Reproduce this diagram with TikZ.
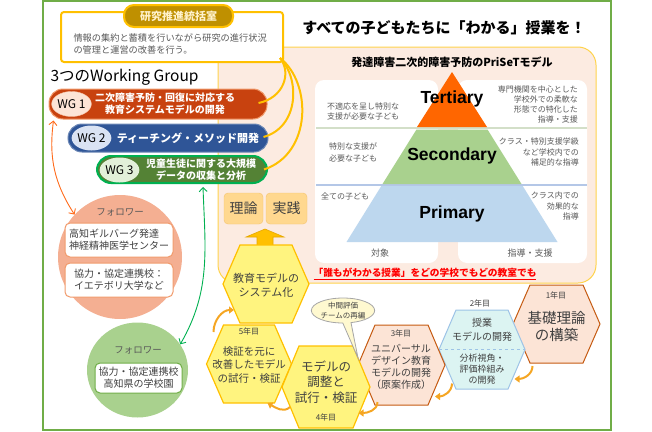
\documentclass[tikz,border=0pt]{standalone}
\usepackage{fontspec}
\setmainfont{Noto Sans CJK JP}
\newfontfamily\arialfont{Liberation Sans}
\usetikzlibrary{calc,shapes.geometric,shapes.callouts,arrows.meta}

\definecolor{framegreen}{HTML}{70AD47}
\definecolor{gold}{HTML}{FFC000}
\definecolor{darkgold}{HTML}{BF9000}
\definecolor{arrowgold}{HTML}{E6A700}
\definecolor{cream}{HTML}{FFF2CC}
\definecolor{peach}{HTML}{FCEBE1}
\definecolor{notegray}{HTML}{595959}
\definecolor{textgray}{HTML}{404040}
\definecolor{wgred}{HTML}{C8420F}
\definecolor{wgblue}{HTML}{2F5597}
\definecolor{wggreen}{HTML}{548235}
\definecolor{tagblue}{HTML}{DAE3F3}
\definecolor{taggreen}{HTML}{E2F0D9}
\definecolor{brightgreen}{HTML}{00B050}
\definecolor{tertiaryfill}{HTML}{FF6600}
\definecolor{secondaryfill}{HTML}{A9D18E}
\definecolor{primaryfill}{HTML}{BDD7EE}
\definecolor{lineA}{HTML}{D3DFC8}
\definecolor{lineB}{HTML}{B4C7E7}
\definecolor{hexyellow}{HTML}{FFF47F}
\definecolor{hexpeach}{HTML}{FCE4D6}
\definecolor{hexbrown}{HTML}{C55A11}
\definecolor{hexcyan}{HTML}{DCF4F2}
\definecolor{hexblue}{HTML}{9DC3E6}
\definecolor{steporange}{HTML}{F5A623}
\definecolor{salmon}{HTML}{F4AF92}
\definecolor{salmonline}{HTML}{F19A6B}
\definecolor{leafgreen}{HTML}{A9D18E}
\definecolor{arrowred}{HTML}{FF6A1A}
\definecolor{boxgold}{HTML}{FFD88F}
\definecolor{boxgoldline}{HTML}{F5C46E}
\definecolor{calloutfill}{HTML}{FFF9D0}
\definecolor{calloutline}{HTML}{A6A6A6}

% irregular hexagon: style, centre, half width, half height
\newcommand\hexcell[4]{%
  \filldraw[#1] ($(#2)+(-#3,0)$) -- ++(17,#4) -- ++(2*#3-34,0) -- ++(17,-#4)
    -- ++(-17,-#4) -- ++(-2*#3+34,0) -- cycle;}

\begin{document}
\begin{tikzpicture}[x=1pt, y=1pt,
  note/.style={text=notegray, font=\fontsize{8}{10.3}\selectfont, inner sep=1pt},
  pane/.style={fill=white, rounded corners=9pt, minimum height=183pt},
  pill/.style={rounded corners=14pt, inner sep=0pt},
  wgtag/.style={ellipse, inner sep=0pt, minimum width=37pt, minimum height=25pt, font=\fontsize{12}{12}\selectfont},
  wgtext/.style={text=white, align=center, font=\bfseries\fontsize{10}{12}\selectfont},
  link/.style={draw=gold, line width=2pt},
  hexy/.style={fill=hexyellow, draw=gold, line width=1.2pt},
  hexp/.style={fill=hexpeach, draw=hexbrown, line width=1pt},
  hext/.style={text=textgray, align=center},
  yr/.style={text=textgray, font=\fontsize{8}{8}\selectfont},
  steparrow/.style={draw=steporange, line width=2pt, -{Triangle[length=5pt,width=7pt]}},
  flbox/.style={fill=white, rounded corners=5pt, line width=1pt, minimum width=108pt, minimum height=34pt, align=center, text=textgray, font=\fontsize{10}{12}\selectfont},
  flhead/.style={text=notegray, font=\fontsize{9.5}{9.5}\selectfont},
  pairarrow/.style={line width=0.9pt, {Straight Barb[length=4pt]}-{Straight Barb[length=4pt]}},
  tier/.style={font=\arialfont\bfseries\fontsize{17.5}{17.5}\selectfont},
  keyword/.style={fill=boxgold, draw=boxgoldline, rounded corners=4pt, minimum height=31pt, text=textgray, font=\fontsize{14}{14}\selectfont}]

\useasboundingbox (0,0) rectangle (652,-431);
\draw[framegreen, line width=1.2pt] (43,-1) rectangle (611,-430);

% PriSeT model
\node[fill=peach, draw=gold!70, line width=1pt, rounded corners=18pt, minimum width=378pt, minimum height=236pt] (priset) at (407,-165) {};
\node[font=\bfseries\fontsize{11}{11}\selectfont] (prisettitle) at (452,-62) {発達障害二次的障害予防のPriSeTモデル};
\node[pane, minimum width=123pt] (leftpane) at (376.5,-171.5) {};
\node[pane, minimum width=129pt] (rightpane) at (522.5,-171.5) {};
\draw[lineA, line width=1.2pt] (316,-128) -- (587,-128);
\draw[lineB, line width=1.2pt] (316,-185) -- (587,-185);
\fill[tertiaryfill] (452,-72) -- (487,-127) -- (417,-127) -- cycle;
\fill[secondaryfill] (416.5,-129.5) -- (487.5,-129.5) -- (521.5,-184) -- (382.5,-184) -- cycle;
\fill[primaryfill] (381.3,-186) -- (522.7,-186) -- (557.5,-242) -- (346.5,-242) -- cycle;
\node[tier] (tert) at (452,-99) {Tertiary};
\node[tier] (sec) at (452,-156) {Secondary};
\node[tier] (prim) at (452,-214) {Primary};

\node[note, anchor=west, align=left] (tneed) at (326,-111.5) {不適応を呈し特別な\\支援が必要な子ども};
\node[note, anchor=east, align=right] (tsupport) at (579,-104.5) {専門機関を中心とした\\学校外での柔軟な\\形態での特化した\\指導・支援};
\node[note, anchor=west, align=left, font=\fontsize{8}{12}\selectfont] (sneed) at (328,-152) {特別な支援が\\必要な子ども};
\node[note, anchor=east, align=right] (ssupport) at (580,-152) {クラス・特別支援学級\\など学校内での\\補足的な指導};
\node[note, anchor=west] (pneed) at (320,-196) {全ての子ども};
\node[note, anchor=east, align=right] (psupport) at (580,-206) {クラス内での\\効果的な\\指導};
\node[note, font=\fontsize{9}{9}\selectfont] (target) at (380,-253) {対象};
\node[note, font=\fontsize{9}{9}\selectfont] (guidance) at (530,-253) {指導・支援};
\node[text=red, font=\bfseries\fontsize{9.7}{10}\selectfont] (motto) at (425,-274) {\underline{「誰もがわかる授業」をどの学校でもどの教室でも}};

% research office
\node[fill=white, draw=gold, line width=2pt, rounded corners=3pt, minimum width=222pt, minimum height=50pt] (office) at (172,-37) {};
\node[fill=darkgold, draw=gold, line width=2pt, rounded corners=10pt, minimum width=109pt, minimum height=22pt, text=cream, font=\bfseries\fontsize{11}{11}\selectfont] (officehead) at (178.5,-16) {研究推進統括室};
\node[anchor=west, align=left, text=notegray, font=\fontsize{9.2}{12}\selectfont] (officetxt) at (70,-44) {情報の集約と蓄積を行いながら研究の進行状況\\の管理と運営の改善を行う。};
\node[font=\bfseries\fontsize{15}{15}\selectfont] (maintitle) at (444,-28) {すべての子どもたちに「わかる」授業を！};

% working groups
\node[anchor=west, font=\fontsize{15.5}{15.5}\selectfont] (wglabel) at (47,-77) {3つのWorking Group};
\node[pill, fill=wgred, draw=salmonline, line width=1pt, minimum width=218pt, minimum height=30pt] (wg1) at (158,-104) {};
\node[pill, fill=wgblue, draw=wgblue!70!white, line width=1pt, minimum width=200pt, minimum height=28pt] (wg2) at (168,-138) {};
\node[pill, fill=wggreen, draw=brightgreen, line width=2pt, minimum width=170pt, minimum height=27pt] (wg3) at (182,-169.5) {};
\node[wgtag, fill=hexpeach, draw=salmonline!60] (wg1tag) at (71.5,-104) {WG 1};
\node[wgtag, fill=tagblue] (wg2tag) at (91.5,-138) {WG 2};
\node[wgtag, fill=taggreen, minimum width=35pt] (wg3tag) at (119.5,-170) {WG 3};
\node[wgtext] (wg1text) at (165,-104) {二次障害予防・回復に対応する\\教育システムモデルの開発};
\node[wgtext, font=\bfseries\fontsize{11}{11}\selectfont] (wg2text) at (188,-138) {ティーチング・メソッド開発};
\node[wgtext] (wg3text) at (201,-170) {児童生徒に関する大規模\\データの収集と分析};

\coordinate (hub) at ($(office.south east)+(-4,5)$);
\draw[link] (hub) .. controls +(12,-15) and +(25,5) .. ($(wg1.east)+(-9,1)$);
\draw[link] (hub) .. controls +(20,-20) and +(36,10) .. ($(wg2.east)+(-5,1)$);
\draw[link] (hub) .. controls +(32,-25) and +(48,16) .. ($(wg3.east)+(-4,0)$);

% followers
\node[circle, fill=salmon, minimum size=124pt] (follow1) at (120,-257) {};
\node[flhead] (f1head) at (120,-212) {フォロワー};
\node[flbox, draw=salmonline, align=left] (gillberg) at (119,-240) {高知ギルバーグ発達\\神経精神医学センター};
\node[flbox, draw=salmonline] (gothenburg) at (119,-280) {協力・協定連携校：\\イエテボリ大学など};
\node[ellipse, fill=leafgreen, minimum width=101pt, minimum height=95pt] (follow2) at (137.5,-370) {};
\node[flhead] (f2head) at (138,-350) {フォロワー};
\node[flbox, draw=framegreen, minimum width=87pt, minimum height=30pt] (kochi) at (138.5,-378) {協力・協定連携校\\高知県の学校園};
\draw[pairarrow, arrowred] ($(wg1.south west)+(5,-1)$) to[bend right=20] (follow1.137);
\draw[pairarrow, brightgreen] ($(wg3.south)+(21,-3)$) to[out=-88,in=60] (follow2.31);

% theory and practice
\node[keyword, minimum width=39pt] (theory) at (243.5,-208.5) {理論};
\node[keyword, minimum width=41pt] (practice) at (286.5,-208.5) {実践};
\filldraw[fill=gold, draw=arrowgold, line width=0.6pt] (265,-229) -- (284,-237) -- (273,-237) -- (273,-247) -- (257,-247) -- (257,-237) -- (246,-237) -- cycle;

% yearly steps
\coordinate (y1) at (556.5,-324);
\coordinate (y2) at (482,-349.5);
\coordinate (y3) at (401.5,-365);
\coordinate (y4) at (326,-387);
\coordinate (y5) at (249,-364);
\coordinate (sys) at (266,-284);
\hexcell{hexp}{y1}{43.5}{39}
\hexcell{fill=hexcyan, draw=hexblue, line width=1pt}{y2}{43}{39.5}
\draw[hexblue, dashed] ($(y2)+(-43,0)$) -- ($(y2)+(43,0)$);
\hexcell{hexp}{y3}{43.5}{40}
\hexcell{hexy}{y5}{42.5}{39}
\hexcell{hexy}{y4}{44}{41}
\hexcell{hexy}{sys}{43}{39}

\node[hext, font=\fontsize{11}{14}\selectfont] (systxt) at (266,-285) {教育モデルの\\システム化};
\node[yr] (y5yr) at (249,-331) {5年目};
\node[hext, font=\fontsize{10.5}{13.5}\selectfont] (y5txt) at (249,-365) {検証を元に\\改善したモデル\\の試行・検証};
\node[hext, font=\fontsize{12.5}{15.5}\selectfont] (y4txt) at (326,-382) {モデルの\\調整と\\試行・検証};
\node[yr] (y4yr) at (326,-417) {4年目};
\node[yr] (y3yr) at (401,-333) {3年目};
\node[hext, font=\fontsize{10}{12}\selectfont] (y3txt) at (401,-367) {ユニバーサル\\デザイン教育\\モデルの開発\\（原案作成）};
\node[yr] (y2yr) at (480,-303) {2年目};
\node[hext, font=\fontsize{10}{14}\selectfont] (y2top) at (482,-330) {授業\\モデルの開発};
\node[hext, font=\fontsize{9}{11}\selectfont] (y2bottom) at (482,-369) {分析視角・\\評価枠組み\\の開発};
\node[yr] (y1yr) at (556,-295) {1年目};
\node[hext, font=\fontsize{14.5}{17}\selectfont] (y1txt) at (556.5,-326.5) {基礎理論\\の構築};

\draw[steparrow] ($(y1)+(-24,-42)$) to[out=-90,in=0] ($(y1)+(-42,-55)$);
\draw[steparrow] ($(y2)+(-30,-34)$) to[out=-90,in=0] ($(y2)+(-47,-47)$);
\draw[steparrow] ($(y3)+(-24,-37)$) to[out=-90,in=0] ($(y3)+(-43,-48)$);
\draw[steparrow] ($(y4)+(-36,-20)$) to[out=-135,in=-30] ($(y5)+(18.5,-39)$);
\draw[steparrow] ($(y5)+(-35.5,32)$) to[out=90,in=180] ($(sys)+(-32,-26)$);

\node[ellipse callout, fill=calloutfill, draw=calloutline, line width=0.8pt, minimum width=58pt, minimum height=25pt, inner sep=0pt, callout absolute pointer={(358,-358)}, align=center, text=textgray, font=\fontsize{7.5}{9.5}\selectfont] (midcheck) at (343,-310.5) {中間評価\\チームの再編};
\end{tikzpicture}
\end{document}
